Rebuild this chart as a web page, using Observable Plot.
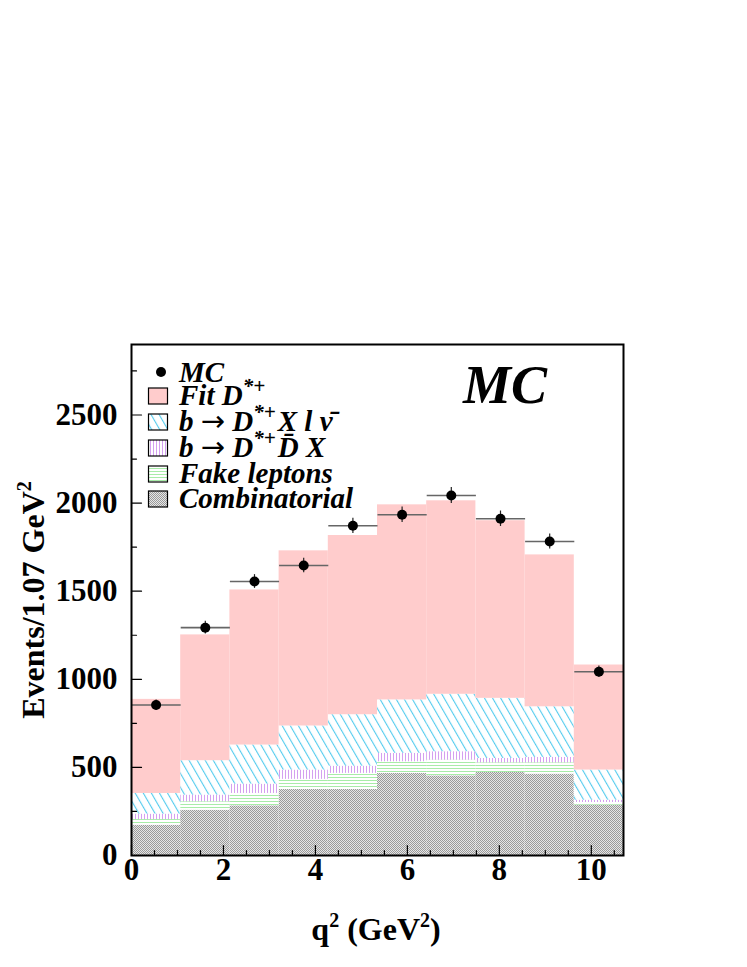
<!DOCTYPE html>
<html><head><meta charset="utf-8">
<script src="https://cdn.jsdelivr.net/npm/d3@7"></script>
<script src="https://cdn.jsdelivr.net/npm/@observablehq/plot@0.6"></script>
<style>
body{margin:0;background:#fff;}
#chart{width:747px;height:967px;}
</style></head><body><div id="chart"></div>
<script>
// ---- data ----
const binEdges = [0, 1.07, 2.14, 3.21, 4.28, 5.35, 6.42, 7.49, 8.56, 9.63, 10.7];
const dataMC    = [854, 1293, 1555, 1646, 1871, 1934, 2043, 1911, 1782, 1043];
const dataErr   = [29, 36, 39, 41, 43, 44, 45, 44, 42, 32];
const combinatorial = [172, 257, 282, 375, 375, 466, 452, 471, 462, 286];
const fakeLeptons   = [32, 48, 70, 57, 91, 66, 89, 55, 64, 15];
const dDbarX        = [31, 38, 53, 53, 41, 48, 48, 25, 31, 13];
const dXlnu         = [117, 195, 222, 250, 292, 303, 326, 341, 287, 171];
const fitDstar      = [534, 714, 880, 994, 1017, 1107, 1098, 1008, 862, 596];
const yTicksMajor = [0, 500, 1000, 1500, 2000, 2500];
const yTicksMinor = [250, 750, 1250, 1750, 2250, 2750];
const xTicksMajor = [0, 2, 4, 6, 8, 10];
const xTicksMinor = [0.5, 1, 1.5, 2.5, 3, 3.5, 4.5, 5, 5.5, 6.5, 7, 7.5, 8.5, 9, 9.5, 10.5];

const layerDefs = [
  {values: combinatorial, fill: "url(#pComb)"},
  {values: fakeLeptons,   fill: "url(#pFake)"},
  {values: dDbarX,        fill: "url(#pDDX)"},
  {values: dXlnu,         fill: "url(#pXlnu)"},
  {values: fitDstar,      fill: "#ffcccc"}
];
const cum = new Array(10).fill(0);
const layers = layerDefs.map(L => {
  const rows = L.values.map((v, i) => {
    const r = {x1: binEdges[i], x2: binEdges[i + 1], y1: cum[i], y2: cum[i] + v};
    cum[i] += v;
    return r;
  });
  return {rows, fill: L.fill};
});
const points = dataMC.map((v, i) => ({
  x: (binEdges[i] + binEdges[i + 1]) / 2,
  x1: binEdges[i], x2: binEdges[i + 1],
  y: v, lo: v - dataErr[i], hi: v + dataErr[i]
}));

const tickShape = {draw(ctx, l) { ctx.moveTo(0, 0); ctx.lineTo(0, -l); }};
const FONT = "'Liberation Serif', 'Times New Roman', serif";

const chart = Plot.plot({
  width: 747, height: 967,
  marginLeft: 131, marginRight: 124, marginTop: 344, marginBottom: 112,
  x: {domain: [0, 10.7], axis: null},
  y: {domain: [0, 2900], axis: null},
  style: {fontFamily: FONT, background: "white", color: "black", overflow: "visible"},
  marks: [
    ...layers.map(L => Plot.rectY(L.rows, {x1: "x1", x2: "x2", y1: "y1", y2: "y2", fill: L.fill})),
    Plot.link(points, {x1: "x1", x2: "x2", y1: "y", y2: "y", stroke: "#666", strokeWidth: 1.6}),
    Plot.ruleX(points, {x: "x", y1: "lo", y2: "hi", stroke: "#222", strokeWidth: 1.2}),
    Plot.dot(points, {x: "x", y: "y", r: 5, fill: "black"}),
    Plot.vector(yTicksMajor, {y: d => d, frameAnchor: "left", length: 10, rotate: 90, anchor: "start", shape: tickShape, stroke: "black", strokeWidth: 1.2}),
    Plot.vector(yTicksMinor, {y: d => d, frameAnchor: "left", length: 5, rotate: 90, anchor: "start", shape: tickShape, stroke: "black", strokeWidth: 1.2}),
    Plot.vector(xTicksMajor, {x: d => d, frameAnchor: "bottom", length: 10, rotate: 0, anchor: "start", shape: tickShape, stroke: "black", strokeWidth: 1.2}),
    Plot.vector(xTicksMinor, {x: d => d, frameAnchor: "bottom", length: 5, rotate: 0, anchor: "start", shape: tickShape, stroke: "black", strokeWidth: 1.2}),
    Plot.axisY({ticks: yTicksMajor, tickSize: 0, tickPadding: 14, tickFormat: "d", fontSize: 31, fontWeight: "bold", label: null}),
    Plot.axisX({ticks: xTicksMajor, tickSize: 0, tickPadding: 2, tickFormat: "d", fontSize: 31, fontWeight: "bold", label: null}),
    Plot.frame({stroke: "black", strokeWidth: 2})
  ]
});

// patterns
const svg = d3.select(chart);
const defs = svg.insert("defs", ":first-child");
const pc = defs.append("pattern").attr("id", "pComb").attr("width", 2).attr("height", 2).attr("patternUnits", "userSpaceOnUse");
pc.append("rect").attr("width", 2).attr("height", 2).attr("fill", "#e6e6e6");
pc.append("rect").attr("width", 1).attr("height", 1).attr("fill", "#9a9a9a");
pc.append("rect").attr("x", 1).attr("y", 1).attr("width", 1).attr("height", 1).attr("fill", "#9a9a9a");
const pf = defs.append("pattern").attr("id", "pFake").attr("width", 4).attr("height", 3).attr("patternUnits", "userSpaceOnUse");
pf.append("rect").attr("width", 4).attr("height", 3).attr("fill", "white");
pf.append("rect").attr("width", 4).attr("height", 1).attr("fill", "#a8eca8");
const pd = defs.append("pattern").attr("id", "pDDX").attr("width", 3).attr("height", 4).attr("patternUnits", "userSpaceOnUse");
pd.append("rect").attr("width", 3).attr("height", 4).attr("fill", "white");
pd.append("rect").attr("width", 1).attr("height", 4).attr("fill", "#d4a0f0");
const px = defs.append("pattern").attr("id", "pXlnu").attr("width", 7).attr("height", 10).attr("patternUnits", "userSpaceOnUse").attr("patternTransform", "rotate(-30)");
px.append("rect").attr("width", 7).attr("height", 10).attr("fill", "white");
px.append("rect").attr("width", 1.1).attr("height", 10).attr("fill", "#55ccee");

// legend
const lg = svg.append("g").attr("font-family", FONT).attr("font-weight", "bold").attr("font-style", "italic")
  .attr("font-size", 29).attr("text-anchor", "start");
lg.append("circle").attr("cx", 161).attr("cy", 372).attr("r", 5).attr("fill", "black");
lg.append("text").attr("x", 179).attr("y", 382).text("MC");
// part kinds: 0 normal, 1 superscript, 2 arrow symbol
const legRows = [
  {y: 405, fill: "#ffcccc", parts: [["Fit D", 0], ["*+", 1]]},
  {y: 431, fill: "url(#pXlnu)", parts: [["b ", 0], ["\u2192", 2], [" D", 0], ["*+", 1], ["X l \u03BD\u0304", 0]]},
  {y: 457, fill: "url(#pDDX)", parts: [["b ", 0], ["\u2192", 2], [" D", 0], ["*+", 1], ["D\u0304 X", 0]]},
  {y: 483, fill: "url(#pFake)", parts: [["Fake leptons", 0]]},
  {y: 508, fill: "url(#pComb)", parts: [["Combinatorial", 0]]}
];
legRows.forEach(r => {
  lg.append("rect").attr("x", 148.5).attr("y", r.y - 17).attr("width", 19).attr("height", 16)
    .attr("fill", r.fill).attr("stroke", "black").attr("stroke-width", 1.2);
  const t = lg.append("text").attr("x", 179).attr("y", r.y);
  let raised = false;
  r.parts.forEach(([s, kind]) => {
    const ts = t.append("tspan").text(s);
    if (kind === 1) { ts.attr("dy", -12).attr("font-size", 21); raised = true; }
    else {
      if (raised) { ts.attr("dy", 12).attr("dx", 2); raised = false; }
      if (kind === 2) ts.attr("font-family", "'DejaVu Sans', sans-serif").attr("font-style", "normal").attr("font-weight", "normal");
    }
  });
});
svg.append("text").attr("x", 463).attr("y", 403).attr("text-anchor", "start").attr("font-family", FONT).attr("font-weight", "bold")
  .attr("font-style", "italic").attr("font-size", 54).text("MC");

// axis titles
const xt = svg.append("text").attr("x", 376).attr("y", 940).attr("text-anchor", "middle")
  .attr("font-family", FONT).attr("font-weight", "bold").attr("font-size", 32);
xt.append("tspan").text("q");
xt.append("tspan").attr("dy", -13).attr("font-size", 20).text("2");
xt.append("tspan").attr("dy", 13).text(" (GeV");
xt.append("tspan").attr("dy", -13).attr("font-size", 20).text("2");
xt.append("tspan").attr("dy", 13).text(")");
const yt = svg.append("text").attr("transform", "translate(44,600) rotate(-90)").attr("text-anchor", "middle")
  .attr("font-family", FONT).attr("font-weight", "bold").attr("font-size", 32);
yt.append("tspan").text("Events/1.07 GeV");
yt.append("tspan").attr("dy", -13).attr("font-size", 20).text("2");

document.getElementById("chart").append(chart);
</script></body></html>
